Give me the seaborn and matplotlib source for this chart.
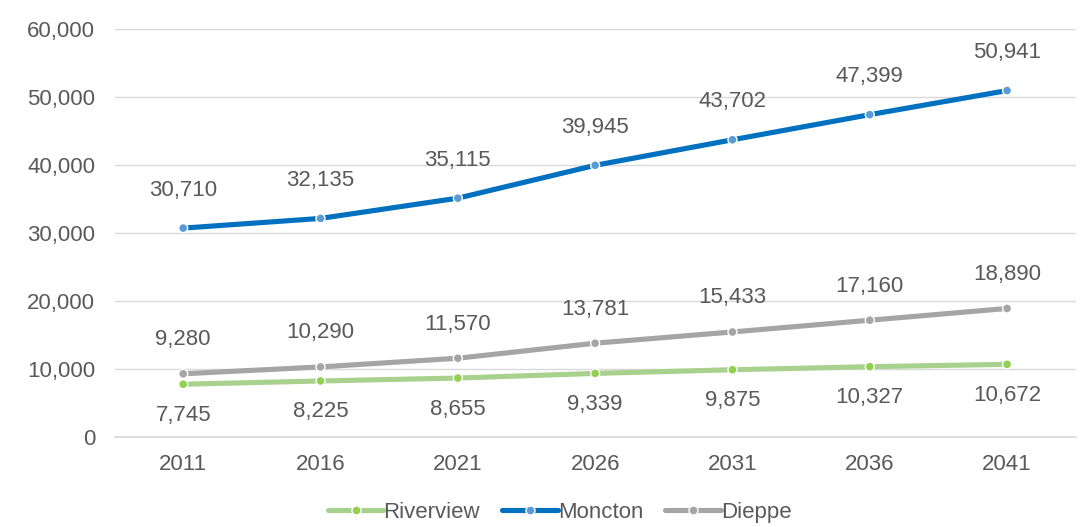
import matplotlib
matplotlib.use("Agg")
import matplotlib.pyplot as plt
from matplotlib.lines import Line2D
from matplotlib.ticker import FuncFormatter
import seaborn as sns
import pandas as pd

years = ["2011", "2016", "2021", "2026", "2031", "2036", "2041"]
riverview = [7745, 8225, 8655, 9339, 9875, 10327, 10672]
moncton = [30710, 32135, 35115, 39945, 43702, 47399, 50941]
dieppe = [9280, 10290, 11570, 13781, 15433, 17160, 18890]

series = ["Riverview", "Moncton", "Dieppe"]
line_colors = {"Riverview": "#A9D18E", "Moncton": "#0070C0", "Dieppe": "#A5A5A5"}
marker_colors = {"Riverview": "#92D050", "Moncton": "#5B9BD5", "Dieppe": "#A5A5A5"}
label_offsets = {"Riverview": -31, "Moncton": 38, "Dieppe": 34}

df = pd.DataFrame({
    "Year": years * 3,
    "Population": riverview + moncton + dieppe,
    "City": ["Riverview"] * 7 + ["Moncton"] * 7 + ["Dieppe"] * 7,
})
df["pos"] = df["Year"].map({y: i for i, y in enumerate(years)})

sns.set_theme(style="white")
plt.rcParams["font.family"] = ["Liberation Sans", "DejaVu Sans"]
text_color = "#595959"
fs = 16

fig = plt.figure(figsize=(10.91, 5.27), dpi=100)
ax = fig.add_axes([0.105, 0.171, 0.881, 0.774])

sns.lineplot(data=df, x="pos", y="Population", hue="City", hue_order=series,
             palette=line_colors, linewidth=3.7, ax=ax, legend=False,
             solid_capstyle="butt", zorder=3)
sns.scatterplot(data=df, x="pos", y="Population", hue="City", hue_order=series,
                palette=marker_colors, s=42, edgecolor="white", linewidth=1.0,
                ax=ax, legend=False, zorder=4)

for city in series:
    sub = df[df["City"] == city]
    for x, v in zip(sub["pos"], sub["Population"]):
        ax.annotate(f"{v:,}", (x, v), xytext=(0, label_offsets[city]),
                    textcoords="offset pixels", ha="center", va="center",
                    fontsize=fs, color=text_color)

ax.set_xlim(-0.5, 6.5)
ax.set_ylim(0, 60000)
ax.set_yticks(range(0, 60001, 10000))
ax.yaxis.set_major_formatter(FuncFormatter(lambda v, _: f"{int(v):,}"))
ax.set_xticks(range(len(years)))
ax.set_xticklabels(years)
ax.set_xlabel("")
ax.set_ylabel("")
ax.grid(axis="y", color="#D9D9D9", linewidth=1.0)
ax.grid(axis="x", visible=False)
ax.set_axisbelow(True)
for side in ["top", "right", "left"]:
    ax.spines[side].set_visible(False)
ax.spines["bottom"].set_color("#D9D9D9")
ax.tick_params(axis="both", length=0, labelsize=fs, colors=text_color)
ax.tick_params(axis="y", pad=14)
ax.tick_params(axis="x", pad=12)

handles = [
    Line2D([0], [0], color=line_colors[c], linewidth=3.7, marker="o",
           markersize=6.5, markerfacecolor=marker_colors[c],
           markeredgecolor="white", markeredgewidth=1.0)
    for c in series
]
fig.legend(handles, series, loc="center", bbox_to_anchor=(0.513, 0.027),
           ncol=3, frameon=False, fontsize=fs, handlelength=2.5,
           handletextpad=0.0, columnspacing=1.0, labelcolor=text_color)

fig.savefig("out.png", dpi=100, facecolor="white")
